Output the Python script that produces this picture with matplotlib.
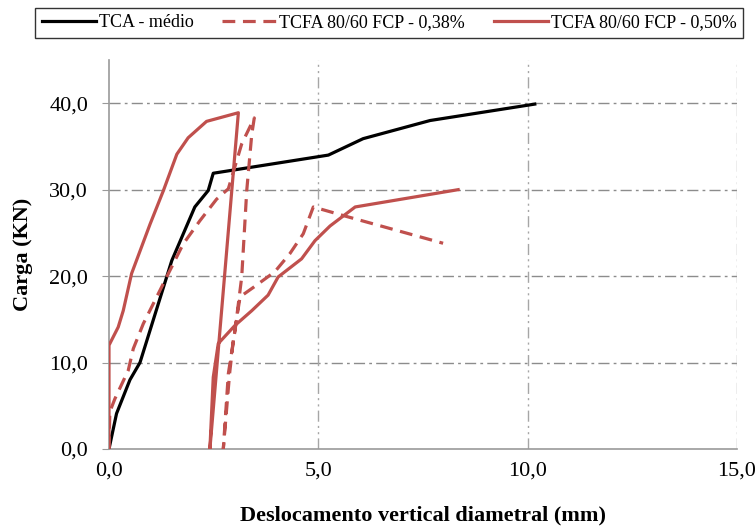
import matplotlib
matplotlib.use("Agg")
import matplotlib.pyplot as plt
from matplotlib.ticker import FuncFormatter

# TCA - medio
tca_x = [0, 0.18, 0.5, 0.74, 1.5, 2.05, 2.37, 2.49, 5.24, 6.07, 7.67, 10.17]
tca_y = [0, 4.1, 8.0, 10.0, 21.8, 28.0, 29.9, 31.9, 34.0, 35.9, 38.0, 39.9]

# TCFA 80/60 FCP - 0,38%
f38_x = [0, 0.02, 0.14, 0.46, 0.58, 0.82, 1.46, 1.77, 2.17, 2.57, 2.85, 3.17, 3.47,
         3.41, 3.29, 3.17, 3.01, 2.85, 2.73,
         2.88, 2.97, 3.13, 3.45, 3.96, 4.32, 4.64, 4.88, 5.6, 7.98]
f38_y = [0, 4.3, 5.8, 9.1, 11.6, 14.5, 20.7, 23.7, 26.4, 28.9, 30.1, 35.3, 38.3,
         36.4, 29.9, 19.9, 13.7, 8.7, 0,
         8.7, 12.6, 17.6, 18.7, 20.5, 22.6, 24.9, 28.0, 27.0, 23.8]

# TCFA 80/60 FCP - 0,50%
f50_x = [0, 0, 0.22, 0.34, 0.54, 0.98, 1.3, 1.62, 1.89, 2.33, 3.09,
         2.41, 2.49, 2.61, 3.01, 3.41, 3.8, 4.04, 4.6, 4.92, 5.28, 5.88, 8.34]
f50_y = [0, 12.0, 14.1, 16.0, 20.3, 26.0, 29.9, 34.1, 36.0, 37.9, 38.9,
         0, 8.3, 12.2, 14.3, 16.0, 17.8, 19.9, 22.0, 24.1, 25.8, 28.0, 30.0]

x_ticks = [0, 5, 10, 15]
y_ticks = [0, 10, 20, 30, 40]

red = "#C0504D"
plt.rcParams["font.family"] = ["Liberation Serif", "DejaVu Serif"]

fig = plt.figure(figsize=(7.56, 5.30), dpi=100)
ax = fig.add_axes([109 / 756, 1 - 449 / 530, 628 / 756, 389 / 530])

ax.plot(tca_x, tca_y, color="black", lw=2.3, label="TCA - médio", zorder=3)
ax.plot(f38_x, f38_y, color=red, lw=2.3, ls=(0, (4, 2.4)),
        label="TCFA 80/60 FCP - 0,38%", zorder=3)
ax.plot(f50_x, f50_y, color=red, lw=2.3, label="TCFA 80/60 FCP - 0,50%", zorder=3)

ax.set_xlim(0, 15)
ax.set_ylim(0, 45)
ax.set_xticks(x_ticks)
ax.set_yticks(y_ticks)
fmt = FuncFormatter(lambda v, p: f"{v:.1f}".replace(".", ","))
ax.xaxis.set_major_formatter(fmt)
ax.yaxis.set_major_formatter(fmt)

for y in y_ticks[1:]:
    ax.axhline(y, color="#8c8c8c", lw=1.0, ls=(0, (8, 3, 2, 3)), zorder=1)
for x in x_ticks[1:]:
    ax.axvline(x, color="#a6a6a6", lw=1.0, ls=(0, (8, 3, 1.5, 3, 1.5, 3)), zorder=1)

for s in ["top", "right"]:
    ax.spines[s].set_visible(False)
for s in ["left", "bottom"]:
    ax.spines[s].set_color("#999999")
    ax.spines[s].set_linewidth(1.2)

ax.tick_params(axis="x", length=0, labelsize=16, pad=9)
ax.tick_params(axis="y", length=5, color="#999999", labelsize=16, pad=10)

ax.set_xlabel("Deslocamento vertical diametral (mm)", fontsize=16,
              fontweight="bold", labelpad=18)
ax.set_ylabel("Carga (KN)", fontsize=16, fontweight="bold", labelpad=12)

leg = fig.legend(loc="upper center", ncol=3,
                 bbox_to_anchor=(389 / 756, 1 - 8 / 530),
                 fontsize=13, frameon=True, fancybox=False, handlelength=3.0,
                 handletextpad=0.15, columnspacing=1.6, borderpad=0.35,
                 borderaxespad=0)
leg.get_frame().set_edgecolor("black")
leg.get_frame().set_linewidth(1.0)

fig.savefig("out.png", dpi=100)
